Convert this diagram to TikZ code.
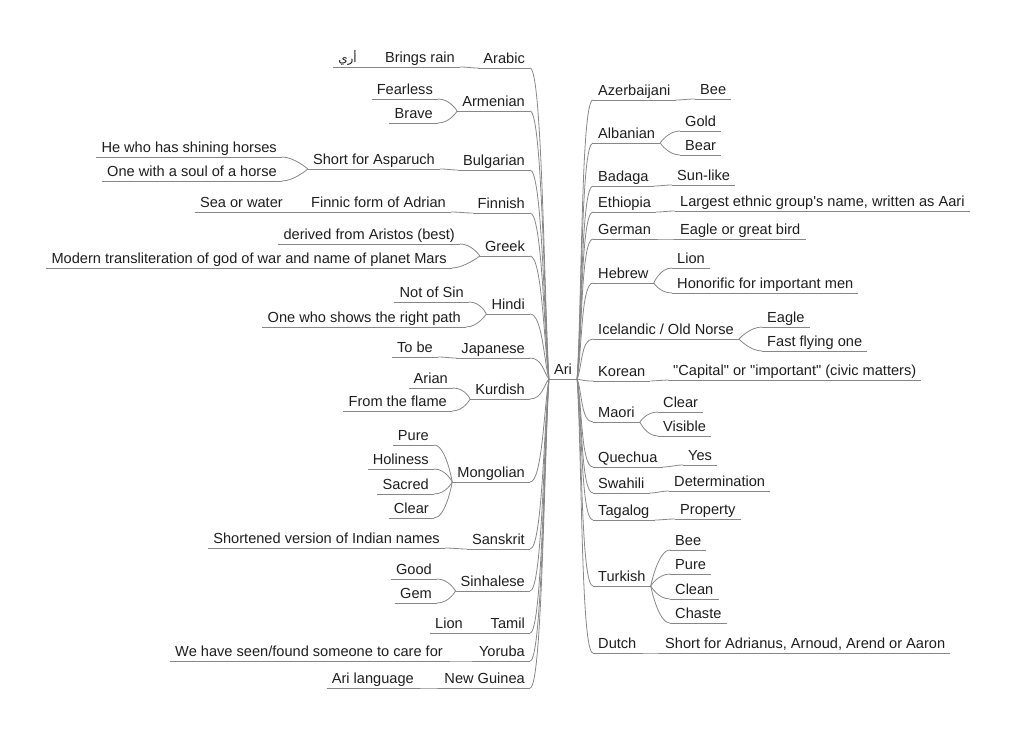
\documentclass[tikz,border=0pt]{standalone}
\usepackage{fontspec}
\setmainfont{Liberation Sans}[Ligatures=TeXOff]
\newfontfamily\arabicfont[Script=Arabic]{DejaVu Sans}
\TeXXeTstate=1
\usetikzlibrary{calc}
\definecolor{ln}{RGB}{135,135,135}
\definecolor{txt}{RGB}{30,30,30}
\newcommand\rootL[1]{\draw[conn] let \p1=(#1.south east), \p2=(ari.south west) in (\p1) .. controls ({\x1+12pt},\y1) and ({\x2-5pt},{0.3*\y1+0.7*\y2}) .. (\p2);}
\newcommand\rootR[1]{\draw[conn] let \p1=(#1.south west), \p2=(ari.south east) in (\p1) .. controls ({\x1-12pt},\y1) and ({\x2+5pt},{0.3*\y1+0.7*\y2}) .. (\p2);}
\newcommand\chainL[2]{\draw[conn] (#1.south west) .. controls +(-8,0) and +(8,0) .. (#2.south east);}
\newcommand\chainR[2]{\draw[conn] (#1.south east) .. controls +(8,0) and +(-8,0) .. (#2.south west);}
\newcommand\forkL[2]{\draw[conn] (#1.south west) .. controls +(0,0) and +(12,0) .. (#2.south east);}
\newcommand\forkR[2]{\draw[conn] (#1.south east) .. controls +(0,0) and +(-12,0) .. (#2.south west);}
\begin{document}
\begin{tikzpicture}[x=1pt,y=-1pt,
  font=\fontsize{14.6}{17}\selectfont,
  nd/.style={inner xsep=5pt, inner ysep=1.5pt, text height=11pt, text depth=3pt, text=txt},
  lt/.style={nd, anchor=south east},
  rt/.style={nd, anchor=south west},
  ct/.style={nd, anchor=south},
  conn/.style={draw=ln, line width=0.8pt}]
\useasboundingbox (0,0) rectangle (1024,735);
% root
\node[ct] (ari) at (563,379) {Ari};
% left level 1
\node[lt] (arabic) at (530,68) {Arabic};
\node[lt] (armenian) at (530,111) {Armenian};
\node[lt] (bulgarian) at (530,170) {Bulgarian};
\node[lt] (finnish) at (530,213) {Finnish};
\node[lt] (greek) at (530,256) {Greek};
\node[lt] (hindi) at (530,314) {Hindi};
\node[lt] (japanese) at (530,358) {Japanese};
\node[lt] (kurdish) at (530,399) {Kurdish};
\node[lt] (mongolian) at (530,482) {Mongolian};
\node[lt] (sanskrit) at (530,549) {Sanskrit};
\node[lt] (sinhalese) at (530,591) {Sinhalese};
\node[lt] (tamil) at (530,633) {Tamil};
\node[lt] (yoruba) at (530,661) {Yoruba};
\node[lt] (newguinea) at (530,688) {New Guinea};
% left deeper
\node[lt] (brings) at (460,67) {Brings rain};
\node[lt] (ary) at (362,67) {\arabicfont\fontsize{12}{14}\selectfont\beginR أري\endR};
\node[lt] (fearless) at (438,99) {Fearless};
\node[lt] (brave) at (438,123) {Brave};
\node[lt] (asparuch) at (440,169) {Short for Asparuch};
\node[lt] (shining) at (282,157) {He who has shining horses};
\node[lt] (soul) at (282,181) {One with a soul of a horse};
\node[lt] (finnic) at (451,212) {Finnic form of Adrian};
\node[lt] (seawater) at (288,212) {Sea or water};
\node[lt] (aristos) at (460,244) {derived from Aristos (best)};
\node[lt] (modern) at (452,268) {Modern transliteration of god of war and name of planet Mars};
\node[lt] (notsin) at (469,302) {Not of Sin};
\node[lt] (rightpath) at (466,327) {One who shows the right path};
\node[lt] (tobe) at (438,357) {To be};
\node[lt] (arian) at (453,388) {Arian};
\node[lt] (flame) at (452,411) {From the flame};
\node[lt] (mpure) at (434,445) {Pure};
\node[lt] (holiness) at (434,469) {Holiness};
\node[lt] (sacred) at (434,494) {Sacred};
\node[lt] (mclear) at (434,518) {Clear};
\node[lt] (indian) at (445,548) {Shortened version of Indian names};
\node[lt] (good) at (437,579) {Good};
\node[lt] (gem) at (437,603) {Gem};
\node[lt] (tlion) at (468,633) {Lion};
\node[lt] (carefor) at (448,661) {We have seen/found someone to care for};
\node[lt] (arilang) at (419,688) {Ari language};
% right level 1
\node[rt] (azerbaijani) at (593,100) {Azerbaijani};
\node[rt] (albanian) at (593,143) {Albanian};
\node[rt] (badaga) at (593,186) {Badaga};
\node[rt] (ethiopia) at (593,212) {Ethiopia};
\node[rt] (german) at (593,239) {German};
\node[rt] (hebrew) at (593,283) {Hebrew};
\node[rt] (icelandic) at (593,339) {Icelandic / Old Norse};
\node[rt] (korean) at (593,381) {Korean};
\node[rt] (maori) at (593,422) {Maori};
\node[rt] (quechua) at (593,467) {Quechua};
\node[rt] (swahili) at (593,493) {Swahili};
\node[rt] (tagalog) at (593,520) {Tagalog};
\node[rt] (turkish) at (593,586) {Turkish};
\node[rt] (dutch) at (593,653) {Dutch};
% right deeper
\node[rt] (azbee) at (695,99) {Bee};
\node[rt] (gold) at (680,131) {Gold};
\node[rt] (bear) at (680,155) {Bear};
\node[rt] (sunlike) at (672,185) {Sun-like};
\node[rt] (aari) at (675,211) {Largest ethnic group's name, written as Aari};
\node[rt] (eaglebird) at (675,239) {Eagle or great bird};
\node[rt] (hlion) at (672,268) {Lion};
\node[rt] (honorific) at (672,293) {Honorific for important men};
\node[rt] (eagle) at (762,327) {Eagle};
\node[rt] (fast) at (762,351) {Fast flying one};
\node[rt] (capital) at (668,380) {"Capital" or "important" (civic matters)};
\node[rt] (clearr) at (658,412) {Clear};
\node[rt] (visible) at (658,436) {Visible};
\node[rt] (yes) at (683,465) {Yes};
\node[rt] (determination) at (669,491) {Determination};
\node[rt] (property) at (675,519) {Property};
\node[rt] (tbee) at (670,550) {Bee};
\node[rt] (tpure) at (670,574) {Pure};
\node[rt] (clean) at (670,599) {Clean};
\node[rt] (chaste) at (670,623) {Chaste};
\node[rt] (adrianus) at (660,653) {Short for Adrianus, Arnoud, Arend or Aaron};
% underlines
\foreach \nd in {ari,arabic,armenian,bulgarian,finnish,greek,hindi,japanese,kurdish,mongolian,sanskrit,sinhalese,tamil,yoruba,newguinea,brings,ary,fearless,brave,asparuch,shining,soul,finnic,seawater,aristos,modern,notsin,rightpath,tobe,arian,flame,mpure,holiness,sacred,mclear,indian,good,gem,tlion,carefor,arilang,azerbaijani,albanian,badaga,ethiopia,german,hebrew,icelandic,korean,maori,quechua,swahili,tagalog,turkish,dutch,azbee,gold,bear,sunlike,aari,eaglebird,hlion,honorific,eagle,fast,capital,clearr,visible,yes,determination,property,tbee,tpure,clean,chaste,adrianus}
  \draw[conn] (\nd.south west) -- (\nd.south east);
% root connectors
\foreach \nd in {arabic,armenian,bulgarian,finnish,greek,hindi,japanese,kurdish,mongolian,sanskrit,sinhalese,tamil,yoruba,newguinea} {\rootL{\nd}}
\foreach \nd in {azerbaijani,albanian,badaga,ethiopia,german,hebrew,icelandic,korean,maori,quechua,swahili,tagalog,turkish,dutch} {\rootR{\nd}}
% left chains
\chainL{arabic}{brings}
\chainL{brings}{ary}
\chainL{bulgarian}{asparuch}
\chainL{finnish}{finnic}
\chainL{finnic}{seawater}
\chainL{japanese}{tobe}
\chainL{sanskrit}{indian}
\chainL{tamil}{tlion}
\chainL{yoruba}{carefor}
\chainL{newguinea}{arilang}
% left forks
\forkL{armenian}{fearless}
\forkL{armenian}{brave}
\forkL{asparuch}{shining}
\forkL{asparuch}{soul}
\forkL{greek}{aristos}
\forkL{greek}{modern}
\forkL{hindi}{notsin}
\forkL{hindi}{rightpath}
\forkL{kurdish}{arian}
\forkL{kurdish}{flame}
\forkL{mongolian}{mpure}
\forkL{mongolian}{holiness}
\forkL{mongolian}{sacred}
\forkL{mongolian}{mclear}
\forkL{sinhalese}{good}
\forkL{sinhalese}{gem}
% right chains
\chainR{azerbaijani}{azbee}
\chainR{badaga}{sunlike}
\chainR{ethiopia}{aari}
\chainR{german}{eaglebird}
\chainR{korean}{capital}
\chainR{quechua}{yes}
\chainR{swahili}{determination}
\chainR{tagalog}{property}
\chainR{dutch}{adrianus}
% right forks
\forkR{albanian}{gold}
\forkR{albanian}{bear}
\forkR{hebrew}{hlion}
\forkR{hebrew}{honorific}
\forkR{icelandic}{eagle}
\forkR{icelandic}{fast}
\forkR{maori}{clearr}
\forkR{maori}{visible}
\forkR{turkish}{tbee}
\forkR{turkish}{tpure}
\forkR{turkish}{clean}
\forkR{turkish}{chaste}
\end{tikzpicture}
\end{document}
